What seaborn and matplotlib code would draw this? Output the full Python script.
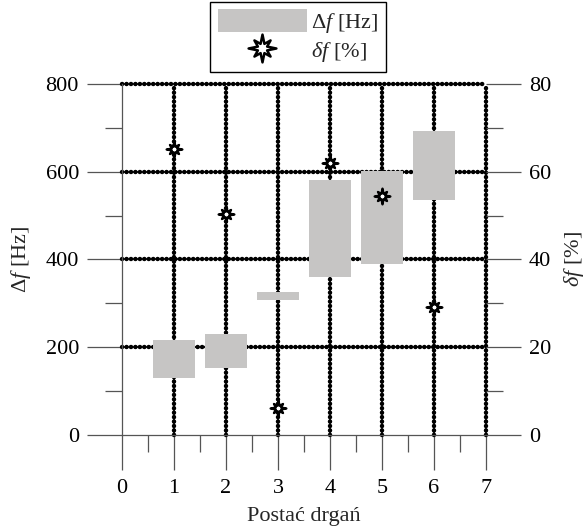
import numpy as np
import pandas as pd
import matplotlib
matplotlib.use("Agg")
import matplotlib.pyplot as plt
from matplotlib.patches import Patch
from matplotlib.lines import Line2D
from matplotlib.path import Path
from matplotlib.ticker import MultipleLocator
import seaborn as sns

# Vibration modes and frequency ranges
modes = [1, 2, 3, 4, 5, 6]
df_low_hz = [130, 153, 307, 359, 389, 536]
df_high_hz = [216, 230, 325, 582, 602, 693]
delta_pct = [65.2, 50.4, 6.1, 62.0, 54.5, 29.1]

x_ticks = [0, 1, 2, 3, 4, 5, 6, 7]
hz_ticks = [0, 200, 400, 600, 800]
pct_ticks = [0, 20, 40, 60, 80]

data = pd.DataFrame({"mode": modes, "lo": df_low_hz, "hi": df_high_hz, "pct": delta_pct})

sns.set_theme(style="white")
plt.rcParams["font.family"] = ["Liberation Serif", "DejaVu Serif"]
plt.rcParams["mathtext.fontset"] = "custom"
plt.rcParams["mathtext.rm"] = "Liberation Serif"
plt.rcParams["mathtext.it"] = "Liberation Serif:italic"

FS = 16
BAR_COLOR = "#c6c5c4"
TICK_COLOR = "#555555"


def spiky_star():
    """Eight-pointed star: cardinal spikes slightly longer than diagonal ones."""
    verts = []
    for k in range(16):
        ang = np.pi / 2 + k * np.pi / 8
        if k % 4 == 0:
            r = 1.0
        elif k % 2 == 0:
            r = 0.82
        else:
            r = 0.36
        verts.append((r * np.cos(ang), r * np.sin(ang)))
    verts.append(verts[0])
    codes = [Path.MOVETO] + [Path.LINETO] * 15 + [Path.CLOSEPOLY]
    return Path(verts, codes)


star = spiky_star()

fig = plt.figure(figsize=(5.87, 5.27), dpi=100)
ax = fig.add_axes([0.2078, 0.1746, 0.6201, 0.666])
ax2 = ax.twinx()

# dotted grid
dot = dict(color="black", lw=3.2, linestyle=(0, (0.05, 0.95)),
           dash_capstyle="round", zorder=1, clip_on=False)
for xv in x_ticks[1:]:
    ax.axvline(xv, **dot)
for yv in hz_ticks[1:]:
    ax.axhline(yv, **dot)

# frequency range boxes
ax.bar(data["mode"], data["hi"] - data["lo"], bottom=data["lo"], width=0.8,
       color=BAR_COLOR, edgecolor="none", zorder=2)

# relative change markers
sns.scatterplot(data=data, x="mode", y="pct", ax=ax2, marker=star, s=130,
                facecolor="white", edgecolor="black", linewidth=1.6, zorder=5,
                legend=False)

ax.set_xlim(0, 7)
ax.set_ylim(0, 800)
ax2.set_ylim(0, 80)
ax2.set_xlim(0, 7)

ax.set_xticks(x_ticks)
ax.xaxis.set_minor_locator(MultipleLocator(0.5))
ax.set_yticks(hz_ticks)
ax.yaxis.set_minor_locator(MultipleLocator(100))
ax2.set_yticks(pct_ticks)
ax2.yaxis.set_minor_locator(MultipleLocator(10))

for a in (ax, ax2):
    a.tick_params(which="major", direction="out", length=25, width=0.9,
                  color=TICK_COLOR, labelsize=FS, labelcolor="black", pad=6)
    a.tick_params(which="minor", direction="out", length=12.5, width=0.9,
                  color=TICK_COLOR)
    for s in a.spines.values():
        s.set_visible(False)
    a.grid(False)

ax.tick_params(axis="x", which="major", pad=7)
ax.tick_params(axis="x", which="both", bottom=True)
ax.tick_params(axis="y", which="both", left=True)
ax.spines["left"].set_visible(True)
ax.spines["bottom"].set_visible(True)
for side in ("left", "bottom"):
    ax.spines[side].set_color(TICK_COLOR)
    ax.spines[side].set_linewidth(0.9)
ax2.tick_params(axis="y", which="both", right=True)

ax.set_xlabel("Postać drgań", fontsize=FS, labelpad=6)
ax.set_ylabel("Δ$f$ [Hz]", fontsize=FS, labelpad=9)
ax2.set_ylabel(r"$\delta f$ [%]", fontsize=FS, labelpad=8)

handles = [
    Patch(facecolor=BAR_COLOR, edgecolor="none", label="Δ$f$ [Hz]"),
    Line2D([], [], linestyle="none", marker=star, markersize=20,
           markerfacecolor="white", markeredgecolor="black",
           markeredgewidth=1.8, label=r"$\delta f$ [%]"),
]
leg = fig.legend(handles=handles, loc="upper center",
                 bbox_to_anchor=(0.508, 0.997), borderaxespad=0,
                 fontsize=FS, frameon=True,
                 fancybox=False, framealpha=1, edgecolor="black",
                 handlelength=4.0, handleheight=1.2, handletextpad=0.2,
                 labelspacing=0.15, borderpad=0.35)
leg.get_frame().set_linewidth(1.0)

fig.savefig("out.png", dpi=100)
